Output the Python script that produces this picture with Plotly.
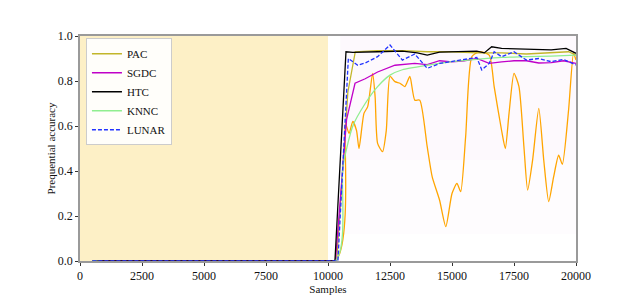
import plotly.graph_objects as go

# ---- data ----
htc_x = [500, 10280, 10725, 11000, 12000, 12500, 13000, 13600, 14000, 14500, 15000, 16000, 16300, 16600, 17000, 18000, 19000, 19600, 20000]
htc_y = [0.0, 0.0, 0.93, 0.927, 0.930, 0.932, 0.933, 0.925, 0.915, 0.928, 0.930, 0.933, 0.925, 0.952, 0.945, 0.940, 0.938, 0.945, 0.923]

pac_x = [500, 10350, 10800, 11100, 12000, 13000, 14000, 15000, 16000, 17000, 18000, 19000, 19700, 20000]
pac_y = [0.0, 0.0, 0.75, 0.93, 0.935, 0.935, 0.930, 0.930, 0.925, 0.925, 0.920, 0.925, 0.930, 0.915]

sgdc_x = [500, 10300, 10750, 11090, 11500, 12000, 12700, 13000, 13500, 14000, 14500, 15000, 15500, 16000, 16500, 17000, 17500, 18000, 18500, 19000, 19500, 20000]
sgdc_y = [0.0, 0.0, 0.63, 0.79, 0.81, 0.84, 0.87, 0.873, 0.878, 0.873, 0.89, 0.885, 0.89, 0.90, 0.878, 0.885, 0.89, 0.89, 0.88, 0.882, 0.89, 0.878]

lunar_x = [500, 10400, 10820, 11200, 11500, 12000, 12500, 13000, 13500, 14000, 14500, 15000, 15500, 16000, 16200, 16500, 16700, 17000, 17500, 18000, 18500, 19000, 19500, 20000]
lunar_y = [0.0, 0.0, 0.90, 0.87, 0.88, 0.908, 0.96, 0.893, 0.92, 0.856, 0.878, 0.886, 0.896, 0.905, 0.849, 0.878, 0.93, 0.908, 0.93, 0.893, 0.90, 0.886, 0.896, 0.871]

knnc_x = [500, 10300, 10600, 11000, 11500, 12000, 12500, 13000, 14000, 15000, 16000, 17000, 18000, 19000, 20000]
knnc_y = [0.0, 0.0, 0.42, 0.60, 0.70, 0.775, 0.826, 0.85, 0.87, 0.886, 0.896, 0.905, 0.908, 0.911, 0.915]

orange_x = [500, 10300, 10700, 10850, 11000, 11150, 11250, 11450, 11600, 11800, 11900, 12000, 12200, 12350, 12500, 12700, 12900, 13100, 13300, 13500, 13700, 14000, 14200, 14500, 14750, 15000, 15200, 15350, 15550, 15800, 16100, 16500, 16700, 17000, 17150, 17300, 17500, 17700, 17900, 18050, 18250, 18500, 18700, 18900, 19100, 19300, 19450, 19700, 19900, 20000]
orange_y = [0.0, 0.0, 0.61, 0.567, 0.62, 0.58, 0.50, 0.656, 0.686, 0.834, 0.73, 0.523, 0.486, 0.58, 0.82, 0.797, 0.79, 0.775, 0.82, 0.715, 0.715, 0.508, 0.375, 0.27, 0.153, 0.30, 0.345, 0.308, 0.552, 0.908, 0.93, 0.915, 0.775, 0.58, 0.50, 0.656, 0.834, 0.775, 0.508, 0.315, 0.448, 0.678, 0.448, 0.264, 0.375, 0.47, 0.43, 0.67, 0.923, 0.893]

x_ticks = [0, 2500, 5000, 7500, 10000, 12500, 15000, 17500, 20000]
y_ticks = [0.0, 0.2, 0.4, 0.6, 0.8, 1.0]
shade_range = [0, 10000]

FONT = "Liberation Serif"

fig = go.Figure()

# shaded warm-up region
fig.add_shape(type="rect", xref="x", yref="y", x0=shade_range[0], x1=shade_range[1], y0=0, y1=1,
              fillcolor="#FDF0C6", line_width=0, layer="below")
# faint raw-accuracy noise background
fig.add_shape(type="rect", xref="x", yref="y", x0=10500, x1=20000, y0=0.45, y1=1,
              fillcolor="rgba(215,160,225,0.06)", line_width=0, layer="below")
fig.add_shape(type="rect", xref="x", yref="y", x0=10500, x1=20000, y0=0.12, y1=0.45,
              fillcolor="rgba(225,180,235,0.035)", line_width=0, layer="below")

fig.add_trace(go.Scatter(x=orange_x, y=orange_y, mode="lines", line=dict(color="#FFA500", width=1.3, shape="spline", smoothing=0.6),
                         showlegend=False, hoverinfo="skip"))
fig.add_trace(go.Scatter(x=pac_x, y=pac_y, mode="lines", name="PAC", line=dict(color="#C2B62A", width=1.3)))
fig.add_trace(go.Scatter(x=sgdc_x, y=sgdc_y, mode="lines", name="SGDC", line=dict(color="#C000C8", width=1.3)))
fig.add_trace(go.Scatter(x=htc_x, y=htc_y, mode="lines", name="HTC", line=dict(color="#000000", width=1.3)))
fig.add_trace(go.Scatter(x=knnc_x, y=knnc_y, mode="lines", name="KNNC", line=dict(color="#90EE90", width=1.3, shape="spline", smoothing=0.6)))
fig.add_trace(go.Scatter(x=lunar_x, y=lunar_y, mode="lines", name="LUNAR", line=dict(color="#2233FF", width=1.3, dash="4px,2px")))

axis_common = dict(showgrid=False, zeroline=False, showline=True, linecolor="#9a9a9a", linewidth=1.5,
                   mirror=True, ticks="outside", ticklen=3, tickcolor="#333", tickfont=dict(family=FONT, size=12, color="#111"))

fig.update_xaxes(range=[0, 20000], tickvals=x_ticks, ticktext=[str(v) for v in x_ticks],
                 title=dict(text="Samples", font=dict(family=FONT, size=11, color="#111"), standoff=2), **axis_common)
fig.update_yaxes(range=[0, 1], tickvals=y_ticks, ticktext=[f"{v:.1f}" for v in y_ticks],
                 title=dict(text="Prequential accuracy", font=dict(family=FONT, size=11, color="#111"), standoff=0), **axis_common)

fig.update_layout(
    width=640, height=299,
    margin=dict(l=72, r=72, t=28, b=46),
    plot_bgcolor="white", paper_bgcolor="white",
    font=dict(family=FONT, size=12, color="#111"),
    legend=dict(x=0.012, y=0.99, xanchor="left", yanchor="top", bgcolor="rgba(255,255,255,0.9)",
                bordercolor="#cccccc", borderwidth=1, font=dict(family=FONT, size=11),
                tracegroupgap=0, itemwidth=30),
)

fig.write_html("out.html")
